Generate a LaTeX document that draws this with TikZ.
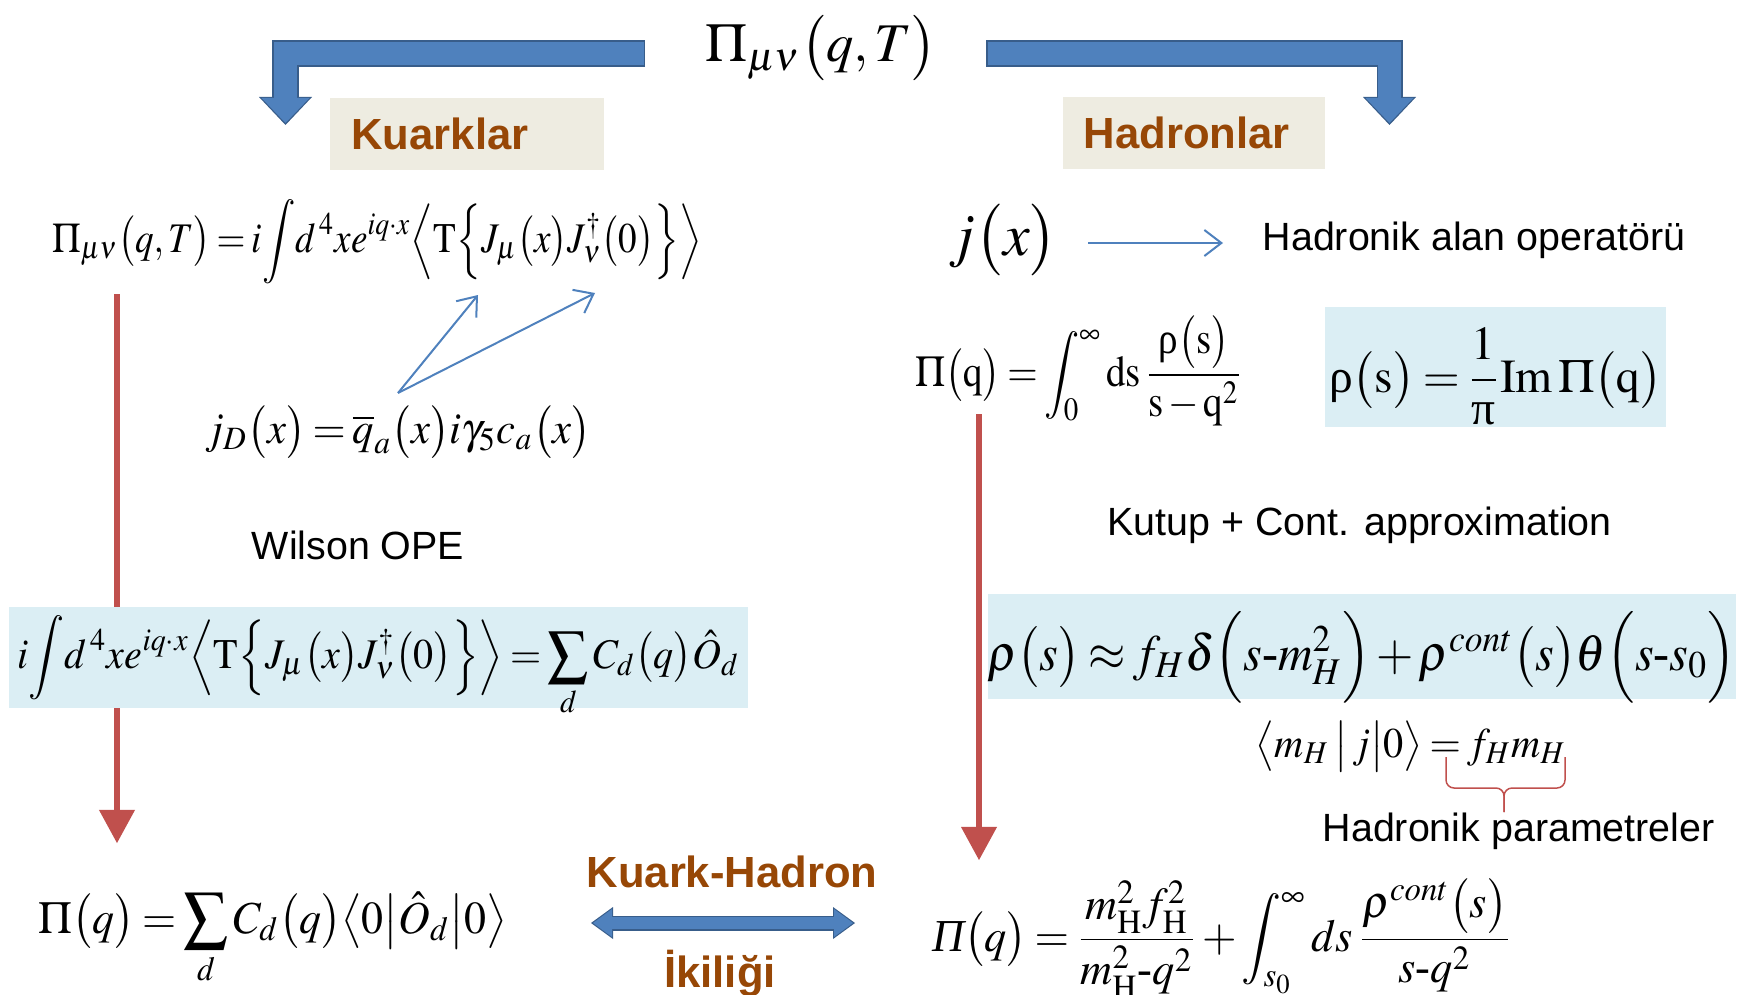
\documentclass[tikz,border=0pt]{standalone}
\usepackage{amsmath}
\usepackage{mathptmx}
\usepackage{graphicx}
\usepackage[no-math]{fontspec}
\newfontfamily\arialfont{Liberation Sans}
\newfontfamily\timesfont{Liberation Serif}
\usetikzlibrary{arrows.meta}
\definecolor{hadbrown}{HTML}{974706}
\definecolor{tagfill}{HTML}{EEECE1}
\definecolor{boxfill}{HTML}{DBEEF4}
\definecolor{arrowblue}{HTML}{4F81BD}
\definecolor{arrowedge}{HTML}{385D8A}
\definecolor{arrowred}{HTML}{C0504D}
\newcommand{\fsz}[1]{\fontsize{#1}{#1}\selectfont}
\newcommand{\sqz}[2]{\scalebox{#1}[1]{#2}}
\newcommand{\urho}{\mbox{\timesfont ρ}}
\newcommand{\upi}{\mbox{\timesfont π}}
\newcommand{\itPi}{\mbox{\timesfont\itshape Π}}
\newcommand{\hy}{\mbox{\timesfont -}}
\thickmuskip=3mu plus 2mu
\medmuskip=2mu plus 1mu

\begin{document}
\begin{tikzpicture}[x=0.01cm, y=-0.01cm,
  tagbox/.style={fill=tagfill, font=\arialfont\bfseries\fsz{12.4}, text=hadbrown, inner xsep=0.21cm, align=left, minimum height=0.72cm},
  dualtext/.style={font=\arialfont\bfseries\fsz{12.4}, text=hadbrown, inner sep=0pt},
  note/.style={font=\arialfont\fsz{11.2}, inner sep=0pt},
  eq/.style={inner sep=0pt},
  eqbox/.style={fill=boxfill, inner sep=0pt},
  bendout/.style={draw=arrowedge, line width=0.26cm, -{Triangle[width=0.53cm, length=0.28cm, line width=0pt]}},
  bendin/.style={draw=arrowblue, line width=0.23cm, shorten <=0.015cm, shorten >=0.02cm, -{Triangle[width=0.48cm, length=0.25cm, line width=0pt]}},
  dualout/.style={draw=arrowedge, line width=0.15cm, {Triangle[width=0.32cm, length=0.22cm, line width=0pt]}-{Triangle[width=0.32cm, length=0.22cm, line width=0pt]}},
  dualin/.style={draw=arrowblue, line width=0.12cm, shorten <=0.02cm, shorten >=0.02cm, {Triangle[width=0.28cm, length=0.19cm, line width=0pt]}-{Triangle[width=0.28cm, length=0.19cm, line width=0pt]}},
  redarrow/.style={draw=arrowred, line width=0.065cm, -{Triangle[width=0.36cm, length=0.33cm, line width=0pt]}},
  thinarrow/.style={draw=arrowblue, line width=0.02cm, -{Straight Barb[length=0.17cm, width=0.26cm]}},
  bracered/.style={draw=arrowred, line width=0.015cm, rounded corners=0.08cm}
]
  \useasboundingbox (0,0) rectangle (1740,994);

  % red arrows go under the boxes
  \coordinate (lredtop) at (117,294);
  \coordinate (lredend) at (117,843);
  \coordinate (rredtop) at (979,414);
  \coordinate (rredend) at (979,860);
  \draw[redarrow] (lredtop) -- (lredend);
  \draw[redarrow] (rredtop) -- (rredend);

  \node[eq, font=\fsz{15.5}, anchor=base] (title) at (821,62) {$\Pi_{\mu\nu}\big(q,T\big)$};
  \node[tagbox, text width=2.31cm] (kuark) at (467,134) {Kuarklar};
  \node[tagbox, text width=2.20cm] (hadron) at (1194,133) {Hadronlar};

  \coordinate (lbar) at (645,53.5);
  \coordinate (ltip) at (285.5,125);
  \coordinate (rbar) at (986,53.5);
  \coordinate (rtip) at (1389.5,125);
  \draw[bendout] (lbar) -| (ltip);
  \draw[bendin] (lbar) -| (ltip);
  \draw[bendout] (rbar) -| (rtip);
  \draw[bendin] (rbar) -| (rtip);

  % quark side
  \node[eq, font=\fsz{12}, anchor=base] (corr) at (377,252) {\sqz{0.88}{$\displaystyle\Pi_{\mu\nu}\big(q,T\big)=i\!\int\! d^{\,4}xe^{iq\cdot x}\Big\langle\mathrm{T}\Big\{J_{\mu}\big(x\big)J_{\nu}^{\dagger}\big(0\big)\Big\}\Big\rangle$}};
  \node[eq, font=\fsz{12.5}, anchor=base] (jd) at (398,443) {\sqz{0.97}{$j_{D}\big(x\big)=\overline{q}_{a}\big(x\big)i\gamma_{5}c_{a}\big(x\big)$}};
  \coordinate (jsrc) at (398,393);
  \coordinate (jmu) at (478,295);
  \coordinate (jnu) at (595,293);
  \draw[thinarrow] (jsrc) -- (jmu);
  \draw[thinarrow] (jsrc) -- (jnu);
  \node[note, anchor=base] (wilson) at (358,559) {Wilson OPE};
  \node[eqbox, minimum width=7.39cm, text height=0.61cm, text depth=0.40cm, font=\fsz{12}] (ope) at (378.5,657.5) {\sqz{0.95}{$\displaystyle i\!\int\! d^{\,4}xe^{iq\cdot x}\Big\langle\mathrm{T}\Big\{J_{\mu}\big(x\big)J_{\nu}^{\dagger}\big(0\big)\Big\}\Big\rangle=\sum_{d}C_{d}\big(q\big)\hat{O}_{d}$}};
  \node[eq, font=\fsz{13}, anchor=base] (qcd) at (273,933) {\sqz{0.96}{$\displaystyle\Pi\big(q\big)=\sum_{d}C_{d}\big(q\big)\big\langle 0\big|\hat{O}_{d}\big|0\big\rangle$}};

  % hadron side
  \node[eq, font=\fsz{17}, anchor=base] (jx) at (1003,255) {$j\big(x\big)$};
  \node[note, anchor=base west] (field) at (1262,251) {Hadronik alan operatörü};
  \coordinate (fsrc) at (1088,243);
  \coordinate (fend) at (1223,243);
  \draw[thinarrow] (fsrc) -- (fend);
  \node[eq, font=\fsz{12.5}, anchor=base] (disp) at (1079,386) {\sqz{0.89}{$\displaystyle\Pi\big(\mathrm{q}\big)=\int_{0}^{\infty}\mathrm{ds}\,\frac{\urho\big(\mathrm{s}\big)}{\mathrm{s}-\mathrm{q}^{2}}$}};
  \node[eqbox, minimum width=3.41cm, text height=0.85cm, text depth=0.35cm, font=\fsz{13.5}] (spec) at (1495.5,367) {$\displaystyle\urho\big(\mathrm{s}\big)=\frac{1}{\upi}\mathrm{Im}\,\Pi\big(\mathrm{q}\big)$};
  \node[note, anchor=base west] (approx) at (1107,535) {Kutup + Cont. approximation};
  \node[eqbox, minimum width=7.46cm, text height=0.76cm, text depth=0.29cm, font=\fsz{14.5}] (pole) at (1362,646.5) {\sqz{0.94}{$\rho\big(s\big)\approx f_{H}\delta\Big(s\hy m_{H}^{2}\Big)+\rho^{cont}\big(s\big)\theta\Big(s\hy s_{0}\Big)$}};
  \node[eq, font=\fsz{12}, anchor=base] (mel) at (1411,757) {\sqz{0.955}{$\big\langle m_{H}\,\big|\,j\big|0\big\rangle=f_{H}m_{H}$}};
  \coordinate (brl) at (1446,757);
  \coordinate (brr) at (1565,757);
  \coordinate (brtip) at (1504,812);
  \draw[bracered] (brl) -- (1446,788) -- (1504,788) -- (brtip);
  \draw[bracered] (brr) -- (1565,788) -- (1504,788) -- (brtip);
  \node[note, anchor=base west] (hpar) at (1322,841) {Hadronik parametreler};
  \node[eq, font=\fsz{13}, anchor=base] (phys) at (1222,951) {\sqz{0.97}{$\itPi\big(q\big)=\dfrac{m_{\mathrm{H}}^{2}f_{\mathrm{H}}^{2}}{m_{\mathrm{H}}^{2}\hy q^{2}}+\displaystyle\int_{s_{0}}^{\infty}ds\,\dfrac{\rho^{cont}\big(s\big)}{s\hy q^{2}}$}};

  % duality
  \node[dualtext, anchor=base] (kh) at (732,887) {Kuark-Hadron};
  \node[dualtext, anchor=base] (ik) at (720,987) {İkiliği};
  \coordinate (dleft) at (591,923);
  \coordinate (dright) at (855,923);
  \draw[dualout] (dleft) -- (dright);
  \draw[dualin] (dleft) -- (dright);
\end{tikzpicture}
\end{document}
